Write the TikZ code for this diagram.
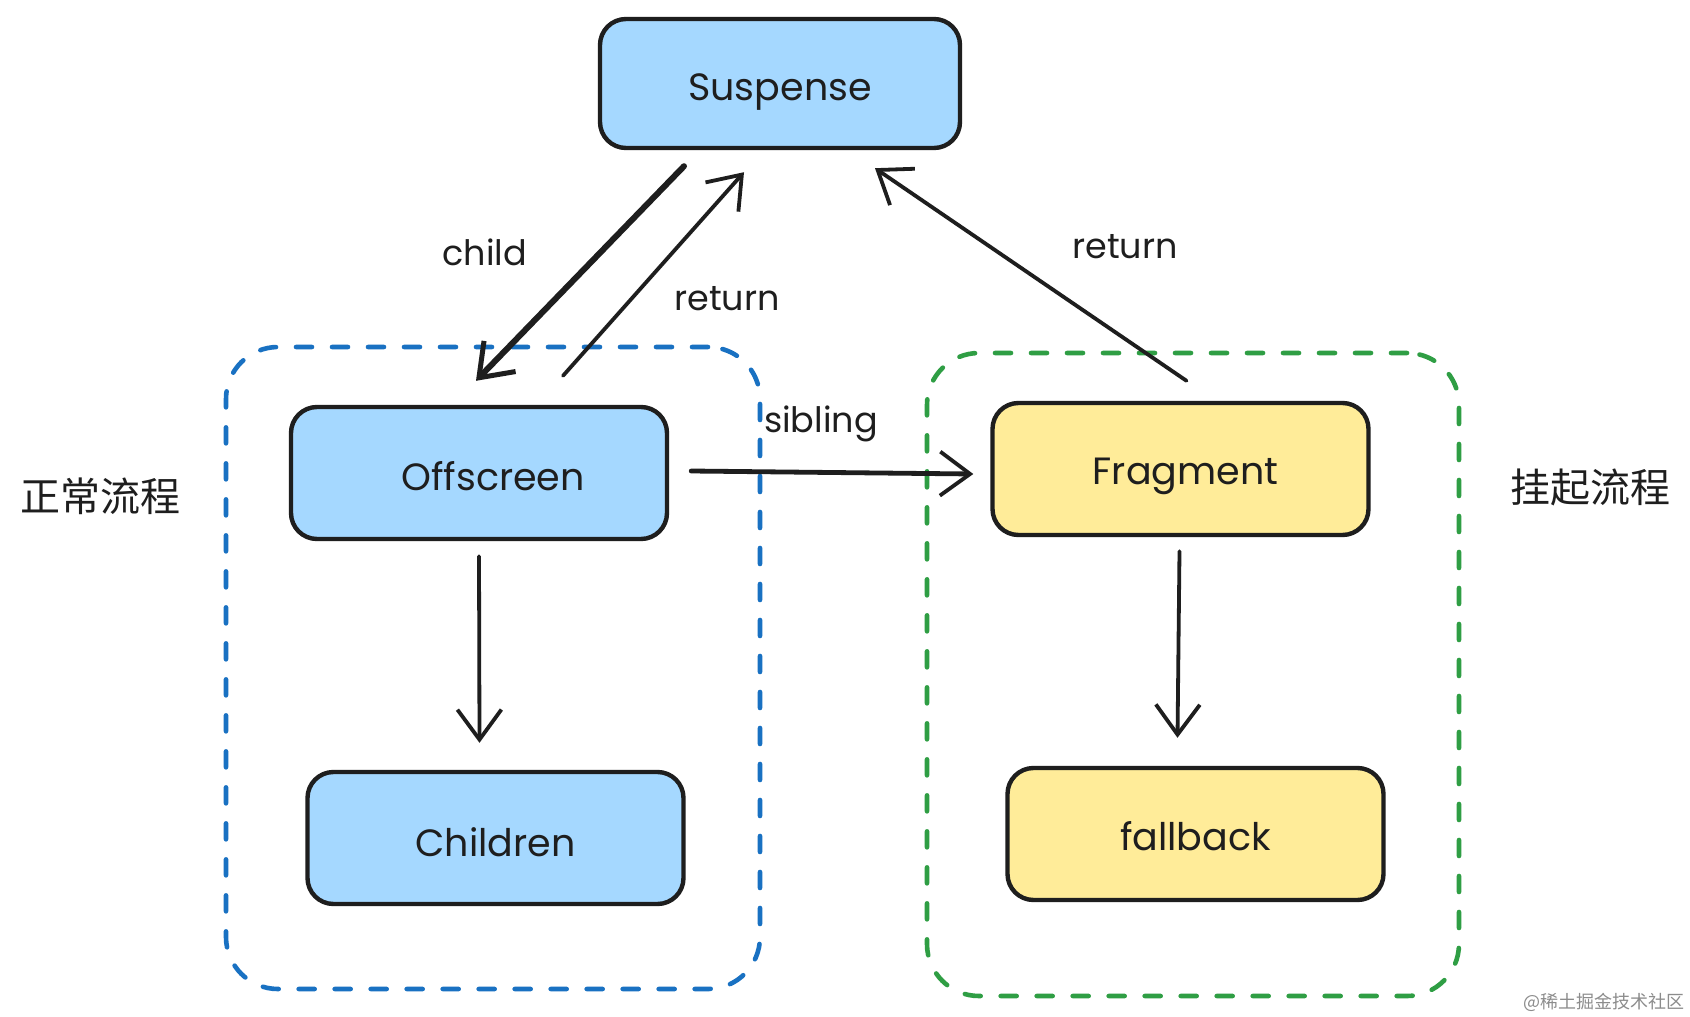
\documentclass[tikz,border=0pt]{standalone}
\usepackage{fontspec}
\setmainfont{Poppins}
\newfontfamily\cjk{Noto Sans CJK SC}
\usetikzlibrary{arrows.meta,calc}
\definecolor{ink}{HTML}{1E1E1E}
\definecolor{bluefill}{HTML}{A5D8FF}
\definecolor{yellowfill}{HTML}{FFEC99}
\definecolor{blueline}{HTML}{1971C2}
\definecolor{greenline}{HTML}{2F9E44}
\newcommand{\dn}[2]{\raisebox{-#1pt}[\height][\depth]{#2}}
\tikzset{
  box/.style={draw=ink, line width=4.4pt, rounded corners=26pt, minimum width=#1, minimum height=132pt, inner sep=0pt, font=\fontsize{38}{44}\selectfont, text=ink},
  bluebox/.style={box=376pt, fill=bluefill},
  yellowbox/.style={box=376pt, fill=yellowfill},
  group/.style={dash pattern=on 16pt off 20pt, line cap=round, line width=4.6pt, rounded corners=52pt, inner sep=0pt},
  conn/.style={draw=ink, line width=3.8pt, line cap=round, -{Straight Barb[length=30pt,width=44pt,line width=3.8pt]}},
  lbl/.style={font=\fontsize{35}{40}\selectfont, text=ink},
  side/.style={font=\cjk\fontsize{40}{46}\selectfont, text=ink},
}
\begin{document}
\begin{tikzpicture}[x=1pt,y=-1pt]
\useasboundingbox[fill=white] (0,0) rectangle (1690,1017);
% containers
\node[group, draw=blueline, minimum width=534pt, minimum height=642pt] (gblue) at (493,668) {};
\node[group, draw=greenline, minimum width=532pt, minimum height=643pt] (ggreen) at (1193,674.5) {};
% nodes
\node[box=360pt, fill=bluefill, minimum height=129pt] (sus) at (780,83.5) {\dn{9}{Suspense}};
\node[bluebox] (off) at (479,473) {\hspace*{28pt}\dn{3}{Offscreen}};
\node[bluebox] (chi) at (495.5,838) {\dn{4}{Children}};
\node[yellowbox] (frag) at (1180.5,469) {\hspace*{10pt}\dn{7}{Fragment}};
\node[yellowbox] (fall) at (1195.5,834) {\dn{2}{fallback}};
% side labels
\node[side] (normal) at (100,496) {正常流程};
\node[side] (suspend) at (1590,487) {挂起流程};
% connectors
\draw[conn, line width=6pt, -{Straight Barb[length=30pt,width=44pt,line width=5pt]}] ($(sus.south)+(-96,16)$) -- ($(off.north)+(-3,-24)$);
\draw[conn] ($(off.north)+(84,-29)$) -- ($(sus.south)+(-36,22)$);
\draw[conn] ($(frag.north)+(6,-20)$) -- ($(sus.south)+(95,18)$);
\draw[conn, line width=4.8pt] ($(off.east)+(22,-2)$) -- ($(frag.west)+(-17,5)$);
\draw[conn] ($(off.south)+(0,15)$) -- ($(chi.north)+(-16,-27)$);
\draw[conn] ($(frag.south)+(-1,14)$) -- ($(fall.north)+(-18,-28)$);
% connector labels
\node[lbl] (lchild) at (485,252) {child};
\node[lbl] (lret1) at (727,299) {return};
\node[lbl] (lret2) at (1125,247) {return};
\node[lbl] (lsib) at (821,424) {sibling};
% watermark
\node[font=\cjk\fontsize{18}{22}\selectfont, text=black!45] (wm) at (1604,1002) {@稀土掘金技术社区};
\end{tikzpicture}
\end{document}
